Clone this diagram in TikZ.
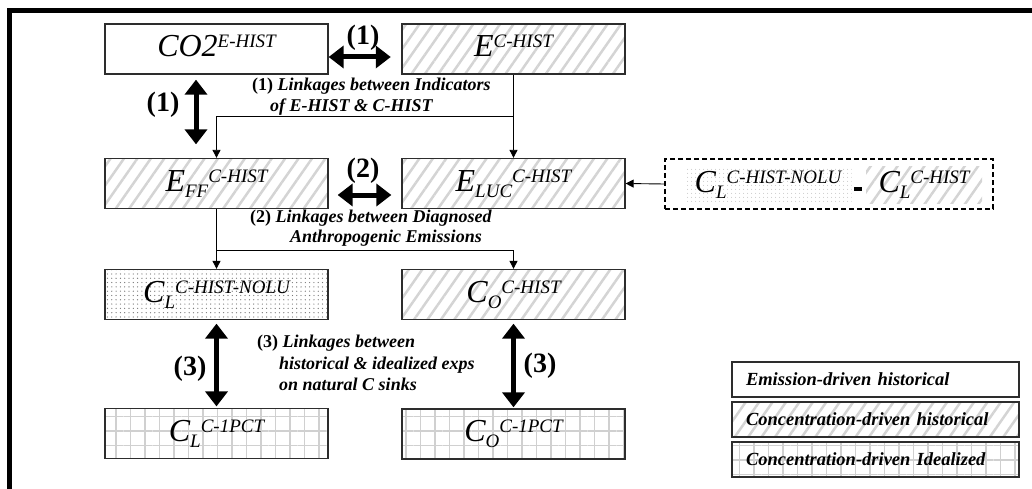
\documentclass[tikz,border=0pt]{standalone}
\usepackage{fontspec}
\setmainfont{Liberation Serif}
\usetikzlibrary{arrows.meta,patterns.meta,calc}
\definecolor{hatchgray}{RGB}{212,212,212}
\definecolor{gridgray}{RGB}{208,208,208}
\definecolor{dotgray}{RGB}{120,120,120}
\definecolor{bordergray}{RGB}{45,45,45}
\newcommand{\mtx}[3]{{\fontsize{32}{32}\selectfont #1}\raisebox{-6pt}{\fontsize{19}{19}\selectfont #2}\raisebox{9pt}{\fontsize{19}{19}\selectfont #3}}
\tikzset{
  box/.style={draw=bordergray, line width=1.3pt, minimum width=223pt, minimum height=50pt, inner sep=0pt, font=\itshape},
  hatchfill/.style={pattern={Lines[angle=55,distance=11pt,line width=2.5pt]}, pattern color=hatchgray},
  dotfill/.style={pattern={Dots[distance=4.3pt,radius=0.65pt]}, pattern color=dotgray},
  lightdotfill/.style={pattern={Dots[distance=4pt,radius=0.6pt]}, pattern color=gray!55},
  gridfill/.style={pattern={Hatch[angle=0,distance=14.5pt,line width=1.2pt]}, pattern color=gridgray},
  bigarrow/.style={line width=5pt, {Triangle[width=22pt,length=15pt]}-{Triangle[width=22pt,length=15pt]}},
  conn/.style={line width=0.9pt, -{Triangle[width=8pt,length=8pt]}},
  ann/.style={font=\fontsize{18}{21}\selectfont\bfseries\itshape, inner sep=0pt, anchor=base west},
  big/.style={font=\fontsize{28}{28}\selectfont\bfseries, inner sep=0pt, anchor=base},
  legbox/.style={draw=bordergray, line width=1.3pt, minimum width=287pt, minimum height=35pt, inner xsep=14pt, inner ysep=0pt, text width=259pt, align=left, font=\fontsize{18.5}{21}\selectfont\bfseries\itshape},
}
\begin{document}
\begin{tikzpicture}[x=1pt,y=-1pt]
\useasboundingbox (0,0) rectangle (1032,489);
% frame
\draw[line width=5pt] (9.5,489) -- (9.5,10.5) -- (1032,10.5);
% boxes
\node[box] (co2) at (216.5,49) {\mtx{CO2}{}{E-HIST}};
\node[box,hatchfill] (ehist) at (513.5,49) {\mtx{E}{}{C-HIST}};
\node[box,hatchfill] (eff) at (216.5,183.5) {\mtx{E}{FF}{C-HIST}};
\node[box,hatchfill] (eluc) at (513.5,183.5) {\mtx{E}{LUC}{C-HIST}};
\node[box,dotfill] (cl) at (216.5,294.5) {\mtx{C}{L}{C-HIST-NOLU}};
\node[box,hatchfill] (co) at (513.5,294.5) {\mtx{C}{O}{C-HIST}};
\node[box,gridfill] (cl1) at (216.5,433.5) {\mtx{C}{L}{C-1PCT}};
\node[box,gridfill] (co1) at (513.5,434) {\mtx{C}{O}{C-1PCT}};
% dashed box
\node[draw, line width=1.2pt, dash pattern=on 5pt off 3pt, minimum width=328pt, minimum height=50pt, inner sep=0pt] (dbox) at (829,184) {};
\node[lightdotfill, inner sep=0pt, minimum width=167pt, minimum height=36pt, font=\itshape] (dl) at (768,185) {\mtx{C}{L}{C-HIST-NOLU}};
\node[inner sep=0pt] (dm) at (858,189.5) {\rule{8pt}{4pt}};
\node[hatchfill, inner sep=0pt, minimum width=116pt, minimum height=36pt, font=\itshape] (dr) at (924,185) {\mtx{C}{L}{C-HIST}};
% thick arrows
\draw[bigarrow, shorten >=10pt] ([yshift=-8pt]co2.east) -- ([yshift=-8pt]ehist.west);
\draw[bigarrow, shorten <=5pt, shorten >=13.5pt] ([xshift=-20.5pt]co2.south) -- ([xshift=-20.5pt]eff.north);
\draw[bigarrow, shorten <=9pt, shorten >=10pt] ([yshift=-11.5pt]eff.east) -- ([yshift=-11.5pt]eluc.west);
\draw[bigarrow, shorten <=3.5pt, shorten >=1.5pt] (cl.south) -- (cl1.north);
\draw[bigarrow, shorten <=3.5pt, shorten >=1pt] (co.south) -- (co1.north);
% thin connectors
\coordinate (j1) at (513.5,116);
\coordinate (j2) at (216.5,250);
\draw[conn] (ehist.south) -- (eluc.north);
\draw[conn] (j1) -| (eff.north);
\draw[conn] (eff.south) -- (cl.north);
\draw[conn] (j2) -| (co.north);
\draw[conn] (dbox.west) -- (eluc.east);
% big labels
\node[big] (l1a) at (363,45) {(1)};
\node[big] (l1b) at (163,112) {(1)};
\node[big] (l2) at (363,178) {(2)};
\node[big] (l3a) at (190,375) {(3)};
\node[big] (l3b) at (540,372) {(3)};
% annotations
\node[ann] (t1a) at (252,91) {{\upshape(1)} Linkages between Indicators};
\node[ann] (t1b) at (270,112) {of E-HIST \& C-HIST};
\node[ann] (t2a) at (250,222) {{\upshape(2)} Linkages between Diagnosed};
\node[ann] (t2b) at (290,242) {Anthropogenic Emissions};
\node[ann] (t3a) at (257,347) {{\upshape(3)} Linkages between};
\node[ann] (t3b) at (279,369) {historical \& idealized exps};
\node[ann] (t3c) at (279,390) {on natural C sinks};
% legend
\node[legbox] (lg1) at (875.5,379.5) {Emission-driven historical};
\node[legbox,hatchfill] (lg2) at (875.5,419.5) {Concentration-driven historical};
\node[legbox,gridfill] (lg3) at (875.5,459.5) {Concentration-driven Idealized};
\end{tikzpicture}
\end{document}
